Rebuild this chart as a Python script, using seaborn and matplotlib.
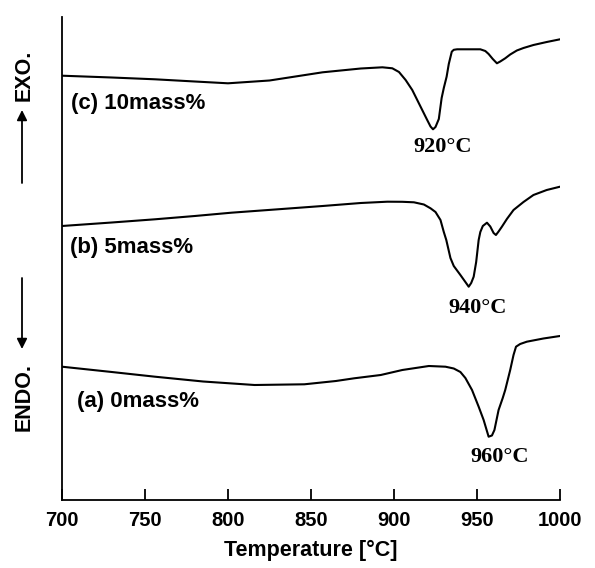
import numpy as np
import pandas as pd
import matplotlib.pyplot as plt
import seaborn as sns

sns.set_style("ticks")
plt.rcParams["font.family"] = ["Liberation Sans", "DejaVu Sans"]
plt.rcParams["text.color"] = "black"
plt.rcParams["axes.labelcolor"] = "black"
plt.rcParams["xtick.color"] = "black"
plt.rcParams["axes.edgecolor"] = "black"

# DTA curves, temperature in degC, signal in arbitrary units (up = exo)
temp_c = [700, 730, 756, 780, 800, 825, 857, 880, 893, 899, 903, 907, 911, 914,
          917, 920, 922, 923.5, 925, 927, 928.7, 930, 931.7, 933, 934.8, 936, 938,
          945, 952, 955, 957, 959.5, 962, 964, 967, 970, 974, 978, 984, 992, 1000]
sig_c = [424.3, 422.5, 420.7, 418.5, 416.7, 419.5, 427.7, 431.5, 432.7, 431.7, 428,
         420, 410, 400, 390, 380, 373.5, 370.7, 373, 381, 402, 412, 423.3, 436,
         448.3, 450.2, 450.7, 450.7, 450.7, 449, 446, 441, 436.7, 438.5, 441.7,
         445.5, 449.5, 452, 455, 458, 460.7]

temp_b = [700, 730, 756, 780, 802, 830, 857, 880, 896, 905, 912, 918, 922, 925,
          928, 930, 931.5, 934, 936, 940, 943, 945, 946.5, 948, 949.5, 951, 952,
          953.5, 956, 958, 960, 961.4, 963, 965, 968, 972, 978, 984, 992, 1000]
sig_b = [274, 277.5, 280.7, 284, 287.3, 290.7, 294, 297, 298.3, 298.2, 297.7, 295.5,
         291.7, 288, 280, 268, 260, 242, 234, 225, 218, 213.3, 217, 223.3, 238,
         260, 268, 274, 277.3, 273.5, 267, 265, 268.5, 273.3, 281, 290, 298, 305,
         310, 313.3]

temp_a = [700, 730, 756, 785, 816, 846, 865, 876, 892, 905, 915, 921, 931, 936,
          940, 943, 947, 951, 954, 957, 959, 960.5, 962, 963, 965.5, 967, 970, 972,
          973.5, 976, 980, 990, 1000]
sig_a = [133.3, 128, 123.3, 118.5, 115, 115.7, 119, 121.7, 125, 130, 132.5, 134,
         133.3, 131.5, 128, 122, 110, 93.3, 80, 63.3, 64.5, 70, 82, 90, 102, 110,
         130, 145, 153.3, 156, 158.3, 161.5, 164]

labels = ["(c) 10mass%", "(b) 5mass%", "(a) 0mass%"]
peaks = ["920°C", "940°C", "960°C"]
xticks = [700, 750, 800, 850, 900, 950, 1000]

fig = plt.figure(figsize=(5.95, 5.68), dpi=100)
ax = fig.add_axes([62 / 595, 68 / 568, 498 / 595, 483 / 568])

for t, s in [(temp_c, sig_c), (temp_b, sig_b), (temp_a, sig_a)]:
    df = pd.DataFrame({"T": t, "S": s})
    sns.lineplot(data=df, x="T", y="S", color="black", lw=1.5, sort=False,
                 estimator=None, ax=ax)

ax.set_xlim(700, 1000)
ax.set_ylim(0, 483)
ax.set_yticks([])
ax.set_ylabel("")
ax.set_xticks(xticks)
ax.set_xticklabels([str(v) for v in xticks], fontweight="bold", fontsize=14.5)
ax.tick_params(axis="x", direction="in", length=8, width=1.3, pad=8)
ax.set_xlabel("Temperature [°C]", fontweight="bold", fontsize=15.5, labelpad=7)
sns.despine(ax=ax)
for sp in ["left", "bottom"]:
    ax.spines[sp].set_linewidth(1.3)

# sample labels
ax.text(705.4, 396.7, labels[0], fontsize=16, fontweight="bold", va="center")
ax.text(704.8, 253, labels[1], fontsize=16, fontweight="bold", va="center")
ax.text(709, 98.3, labels[2], fontsize=16, fontweight="bold", va="center")

# peak labels
serif = ["Liberation Serif", "DejaVu Serif"]
ax.text(929.5, 353, peaks[0], fontsize=16, fontweight="bold", family=serif,
        ha="center", va="center")
ax.text(950.6, 192, peaks[1], fontsize=16, fontweight="bold", family=serif,
        ha="center", va="center")
ax.text(963.9, 43, peaks[2], fontsize=16, fontweight="bold", family=serif,
        ha="center", va="center")

# EXO / ENDO with arrows
fig.text(24 / 595, 1 - 75 / 568, "EXO.", rotation=90, fontsize=15.5,
         fontweight="bold", ha="center", va="center")
fig.text(24 / 595, 1 - 397 / 568, "ENDO.", rotation=90, fontsize=15.5,
         fontweight="bold", ha="center", va="center")
arrow = dict(arrowstyle="-|>", color="black", lw=1.3, mutation_scale=15,
             shrinkA=0, shrinkB=0)
ax.annotate("", xy=(22 / 595, 1 - 110 / 568), xytext=(22 / 595, 1 - 183 / 568),
            xycoords="figure fraction", textcoords="figure fraction",
            arrowprops=arrow)
ax.annotate("", xy=(22 / 595, 1 - 349 / 568), xytext=(22 / 595, 1 - 278 / 568),
            xycoords="figure fraction", textcoords="figure fraction",
            arrowprops=arrow)

fig.savefig("out.png", dpi=100)
